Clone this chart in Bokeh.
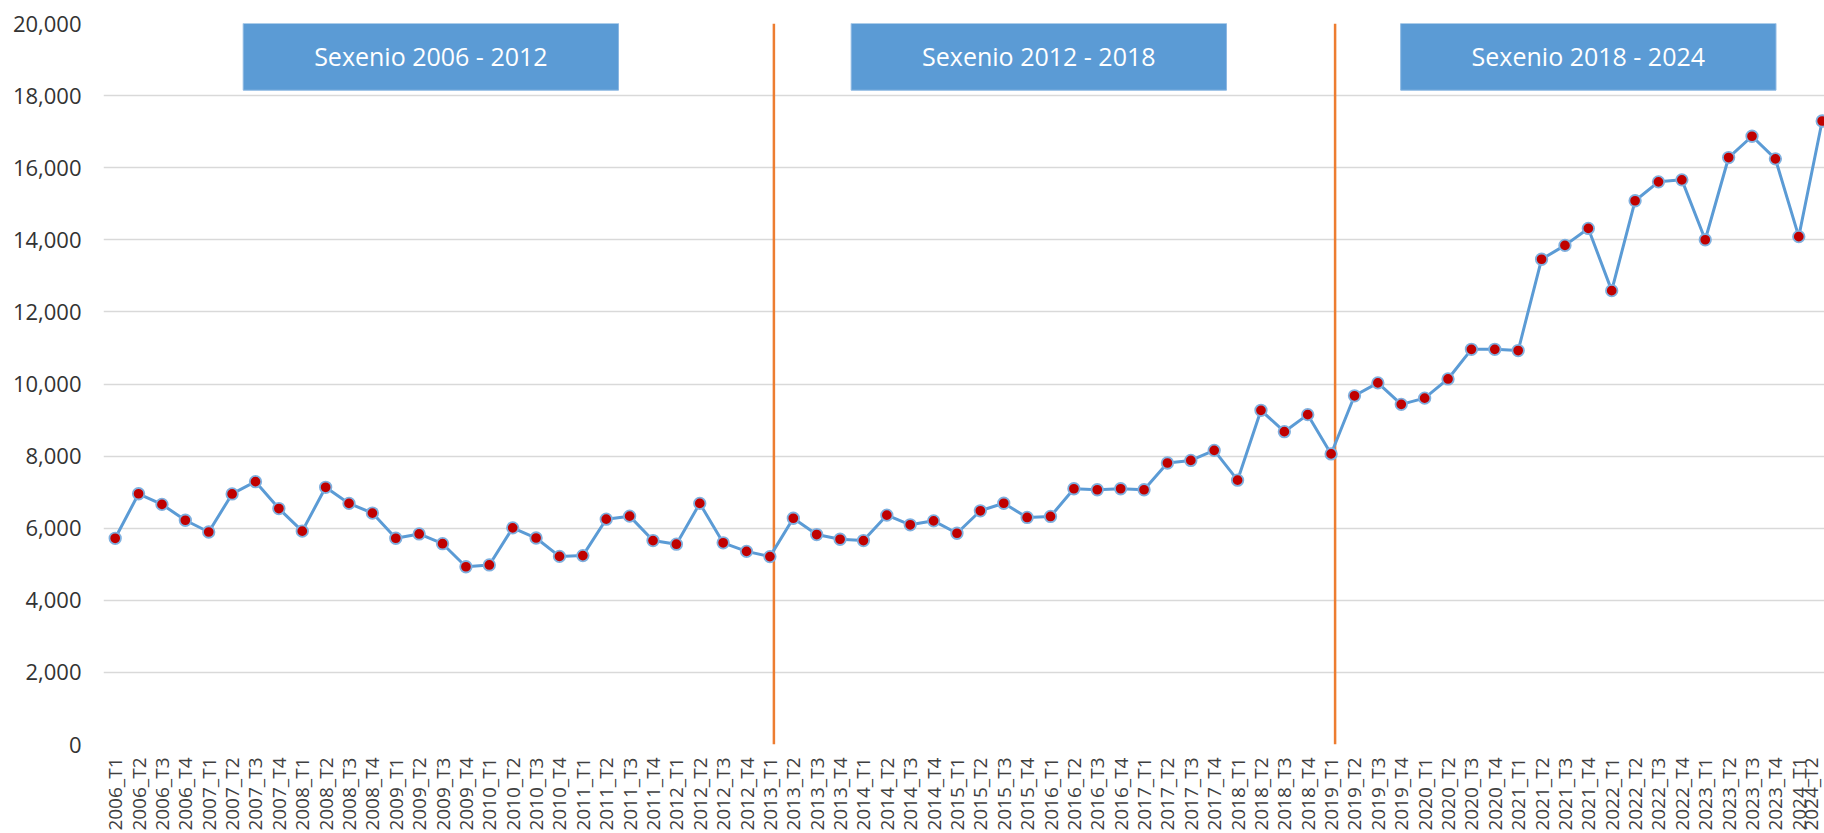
from bokeh.plotting import figure
from bokeh.models import Range1d, FixedTicker, NumeralTickFormatter
from bokeh.embed import file_html
from bokeh.resources import INLINE
from bokeh.core.properties import value

# ---- data ----
years = list(range(2006, 2025))
quarters = ["T1", "T2", "T3", "T4"]
categories = [f"{y}_{q}" for y in years for q in quarters][:74]

values = [
    5720, 6955, 6660, 6220,      # 2006
    5895, 6950, 7290, 6545,      # 2007
    5918, 7135, 6688, 6420,      # 2008
    5721, 5840, 5570, 4930,      # 2009
    4980, 6010, 5728, 5218,      # 2010
    5240, 6250, 6334, 5657,      # 2011
    5556, 6688, 5595, 5358,      # 2012
    5212, 6276, 5824, 5694,      # 2013
    5657, 6362, 6095, 6204,      # 2014
    5860, 6483, 6692, 6298,      # 2015
    6326, 7094, 7066, 7094,      # 2016
    7066, 7808, 7880, 8160,      # 2017
    7332, 9270, 8677, 9150,      # 2018
    8060, 9673, 10031, 9436,     # 2019
    9607, 10140, 10962, 10962,   # 2020
    10928, 13460, 13845, 14315,  # 2021
    12590, 15083, 15608, 15663,  # 2022
    14002, 16282, 16872, 16245,  # 2023
    14088, 17295,                # 2024
]

sexenio_labels = ["Sexenio 2006 - 2012", "Sexenio 2012 - 2018", "Sexenio 2018 - 2024"]
sexenio_start = ["2006_T1", "2013_T1", "2019_T1"]
sexenio_end = ["2012_T4", "2018_T4", "2024_T3"]
divider_cats = ["2013_T1", "2019_T1"]
y_ticks = list(range(0, 20001, 2000))

# ---- figure ----
FONT = "Open Sans"
TXT = "#404040"
idx = list(range(len(categories)))

p = figure(width=1824, height=833, output_backend="svg", toolbar_location=None,
           x_range=Range1d(-0.5, 73.1), y_range=Range1d(0, 20000),
           min_border_left=103, min_border_right=0, min_border_top=23,
           min_border_bottom=87)
p.outline_line_color = None
p.background_fill_color = "white"
p.border_fill_color = "white"

# axes
p.xaxis.ticker = FixedTicker(ticks=idx)
p.xaxis.major_label_overrides = {i: c for i, c in enumerate(categories)}
p.xaxis.major_label_orientation = 1.5708
p.xaxis.axis_line_color = None
p.xaxis.major_tick_line_color = None
p.xaxis.minor_tick_line_color = None
p.xaxis.major_tick_out = 0
p.xaxis.major_label_standoff = 13
p.xaxis.major_label_text_font = FONT
p.xaxis.major_label_text_font_size = "19px"
p.xaxis.major_label_text_color = TXT

p.yaxis.ticker = FixedTicker(ticks=y_ticks)
p.yaxis.formatter = NumeralTickFormatter(format="0,0")
p.yaxis.axis_line_color = None
p.yaxis.major_tick_line_color = None
p.yaxis.minor_tick_line_color = None
p.yaxis.major_tick_out = 0
p.yaxis.major_label_standoff = 22
p.yaxis.major_label_text_font = FONT
p.yaxis.major_label_text_font_size = "22px"
p.yaxis.major_label_text_color = "#333333"

p.xgrid.grid_line_color = None
p.ygrid.ticker = FixedTicker(ticks=y_ticks)
p.ygrid.grid_line_color = "#D9D9D9"
p.ygrid.grid_line_width = 1.3

# sexenio boxes
box_x = [(categories.index(s) + (categories.index(e) if e in categories else len(categories))) / 2
         for s, e in zip(sexenio_start, sexenio_end)]
p.rect(x=box_x, y=19090, width=16.05, height=1880, fill_color="#5B9BD5",
       line_color="#8DB8E2", line_width=1)
p.text(x=box_x, y=19090, text=sexenio_labels, text_align="center",
       text_baseline="middle", text_color="white", text_font=value(FONT),
       text_font_size="25px")

# divider lines
div_x = [categories.index(c) + 0.17 for c in divider_cats]
p.segment(x0=div_x, y0=[0] * len(div_x), x1=div_x, y1=[20000] * len(div_x),
          line_color="#ED7D31", line_width=2.5)

# series
p.line(idx, values, line_color="#5B9BD5", line_width=3)
p.scatter(idx, values, size=11.5, fill_color="#C00000", line_color="#7FB0DF",
          line_width=1.8)

open("out.html", "w").write(file_html(p, INLINE))
